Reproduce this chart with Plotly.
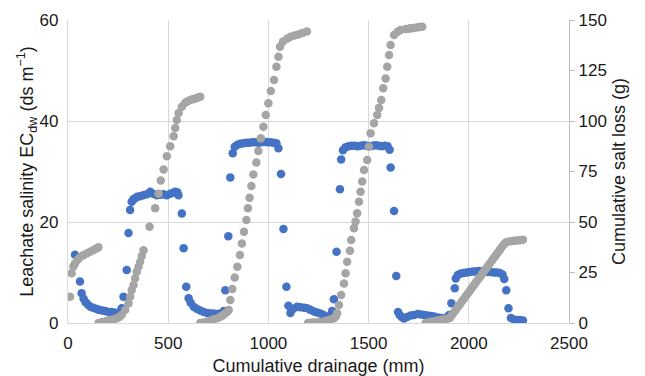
import plotly.graph_objects as go

# Leachate salinity EC_dw (left axis)
drainage_ec = [35, 60, 68, 78, 88, 100, 112, 125, 140, 155, 170, 185, 200, 215, 230, 245, 260, 268, 277, 293,
               302, 310, 318, 327, 335, 345, 360, 375, 393, 410, 425, 443, 460, 477, 493, 510, 525, 535, 545, 551,
               568, 577, 590, 602, 612, 627, 642, 660, 677, 695, 712, 727, 745, 760, 770, 778, 785, 800, 810, 822,
               832, 845, 860, 875, 890, 905, 920, 935, 950, 965, 980, 995, 1010, 1025, 1040, 1050, 1063, 1075, 1090, 1100,
               1110, 1125, 1143, 1160, 1178, 1193, 1210, 1227, 1243, 1260, 1275, 1290, 1305, 1318, 1327, 1340, 1357, 1363, 1372, 1385,
               1400, 1415, 1430, 1445, 1460, 1475, 1490, 1505, 1520, 1535, 1550, 1565, 1580, 1595, 1605, 1610, 1627, 1638, 1647, 1655,
               1665, 1677, 1692, 1710, 1727, 1745, 1762, 1777, 1795, 1812, 1827, 1845, 1862, 1877, 1892, 1902, 1913, 1930, 1935, 1945,
               1960, 1975, 1990, 2005, 2020, 2035, 2050, 2065, 2080, 2095, 2110, 2125, 2140, 2155, 2168, 2177, 2187, 2198, 2210, 2225,
               2240, 2255, 2270]
ec_dw = [13.5, 8.2, 5.9, 4.8, 4.1, 3.6, 3.2, 3.0, 2.8, 2.6, 2.5, 2.4, 2.2, 2.2, 2.1, 2.0, 2.1, 2.9, 5.2, 10.5,
         17.8, 22.4, 24.0, 24.5, 24.7, 25.0, 25.1, 25.3, 25.5, 26.0, 25.6, 25.3, 25.4, 25.5, 25.3, 25.6, 25.8, 26.0, 25.9, 25.3,
         21.7, 14.8, 7.2, 4.9, 4.0, 3.2, 2.8, 2.5, 2.2, 2.0, 1.9, 1.9, 1.8, 1.9, 2.0, 2.4, 6.5, 17.2, 28.8, 33.6,
         34.9, 35.3, 35.5, 35.6, 35.7, 35.7, 35.8, 35.8, 35.7, 35.8, 35.9, 35.8, 35.8, 35.7, 35.6, 34.6, 29.5, 18.6, 7.2, 3.4,
         2.0, 2.8, 3.2, 3.1, 3.0, 2.9, 2.6, 2.3, 2.1, 1.9, 1.6, 1.2, 1.4, 2.4, 4.7, 14.1, 26.5, 32.4, 34.2, 34.8,
         35.0, 35.1, 35.1, 35.0, 35.1, 35.2, 35.1, 35.0, 35.1, 35.2, 35.1, 35.0, 35.1, 35.0, 34.3, 30.8, 22.2, 9.3, 2.2, 1.6,
         1.2, 0.9, 1.2, 1.5, 1.6, 1.8, 1.7, 1.6, 1.5, 1.4, 1.3, 1.1, 1.0, 0.9, 1.2, 1.6, 3.9, 6.9, 8.8, 9.5,
         9.8, 9.9, 10.0, 10.1, 10.2, 10.2, 10.3, 10.2, 10.2, 10.1, 10.1, 10.0, 10.0, 9.9, 9.6, 8.7, 6.5, 2.9, 1.0, 0.7,
         0.6, 0.6, 0.5]

# Cumulative salt loss (right axis)
drainage_salt = [10, 18, 27, 35, 47, 60, 76, 93, 110, 127, 140, 152,
                 152, 170, 190, 210, 228, 243, 256, 268, 285, 302, 310, 318, 327, 335, 343, 352, 360, 368, 377, 407, 435, 452,
                 463, 477, 493, 510, 527, 535, 543, 552, 568, 585, 597, 610, 622, 635, 648, 660,
                 660, 675, 693, 710, 727, 745, 760, 773, 785, 795, 802, 810, 820, 832, 845, 858, 868, 878, 890, 898,
                 906, 915, 925, 940, 950, 962, 975, 987, 1000, 1012, 1028, 1040, 1050, 1058, 1073, 1095, 1110, 1130, 1150, 1170, 1192,
                 1198, 1212, 1227, 1243, 1260, 1277, 1293, 1310, 1327, 1337, 1343, 1352, 1363, 1377, 1385, 1393, 1407, 1413, 1427, 1435,
                 1443, 1452, 1460, 1468, 1477, 1493, 1502, 1510, 1527, 1543, 1552, 1563, 1573, 1585, 1593, 1602, 1610, 1627, 1645, 1660,
                 1685, 1700, 1710, 1725, 1740, 1755, 1768,
                 1785, 1797, 1810, 1822, 1835, 1847, 1860, 1872, 1885, 1895, 1905, 1915, 1925, 1935, 1945, 1955, 1965, 1975, 1985, 1995,
                 2005, 2015, 2025, 2035, 2045, 2055, 2065, 2075, 2085, 2095, 2105, 2115, 2125, 2135, 2145, 2155, 2165, 2175, 2185, 2195,
                 2210, 2225, 2240, 2255, 2270]
salt_loss = [13.0, 24.6, 28.0, 29.5, 31.2, 32.5, 33.6, 34.4, 35.3, 36.1, 36.8, 37.5,
             0.0, 0.5, 1.0, 1.5, 1.9, 2.3, 3.0, 4.0, 6.4, 9.7, 13.0, 16.3, 18.8, 22.0, 25.4, 27.9, 30.3, 33.2, 36.0, 47.7, 56.8, 64.0,
             70.5, 76.0, 82.5, 87.5, 92.5, 96.5, 100.5, 104.0, 107.0, 109.0, 109.8, 110.4, 110.8, 111.2, 111.6, 112.0,
             0.0, 0.3, 0.6, 1.2, 1.8, 2.4, 3.1, 3.8, 4.8, 5.6, 6.4, 11.4, 16.8, 22.5, 27.9, 33.7, 39.4, 45.2, 51.0, 56.8,
             62.0, 67.8, 73.5, 79.5, 85.2, 91.4, 97.2, 103.0, 108.8, 114.8, 120.3, 126.9, 131.8, 136.8, 139.3, 140.8, 141.7, 142.3, 142.8, 143.6, 144.3,
             0.0, 0.1, 0.2, 0.3, 0.5, 0.8, 1.2, 1.7, 2.3, 3.3, 4.8, 8.9, 13.9, 19.6, 24.6, 30.3, 35.8, 41.1, 46.9, 50.2,
             54.3, 60.0, 65.0, 70.0, 75.7, 80.7, 87.3, 93.9, 98.9, 103.0, 106.5, 110.4, 116.2, 121.1, 126.9, 132.7, 137.6, 142.6, 144.2, 145.0,
             145.5, 145.7, 145.9, 146.1, 146.3, 146.5, 146.7,
             0.0, 0.2, 0.5, 0.7, 1.0, 1.2, 1.5, 1.7, 2.0, 2.2, 2.5, 3.8, 5.2, 6.5, 7.9, 9.2, 10.6, 11.9, 13.3, 14.6,
             16.0, 17.3, 18.7, 20.0, 21.4, 22.7, 24.1, 25.4, 26.8, 28.1, 29.5, 30.8, 32.2, 33.5, 34.9, 36.2, 37.6, 38.9, 39.8, 40.2,
             40.5, 40.7, 40.9, 41.0, 41.2]

x_ticks = [0, 500, 1000, 1500, 2000, 2500]
y_ticks = [0, 20, 40, 60]
y2_ticks = [0, 25, 50, 75, 100, 125, 150]

BLUE = "#4472C4"
GRAY = "#A5A5A5"
GRID = "#D9D9D9"
TXT = "#1a1a1a"
FONT = "Liberation Sans, Arial, sans-serif"

fig = go.Figure()
fig.add_trace(go.Scatter(x=drainage_ec, y=ec_dw, mode="markers",
                         marker=dict(color=BLUE, size=8.5, line=dict(width=0)),
                         yaxis="y", showlegend=False))
fig.add_trace(go.Scatter(x=drainage_salt, y=salt_loss, mode="markers",
                         marker=dict(color=GRAY, size=8.5, line=dict(width=0)),
                         yaxis="y2", showlegend=False))

fig.update_layout(
    width=645, height=376,
    margin=dict(l=68, r=76, t=20, b=53),
    paper_bgcolor="white", plot_bgcolor="white",
    font=dict(family=FONT, color=TXT, size=17),
    xaxis=dict(range=[0, 2500], tickvals=x_ticks, showgrid=True, gridcolor=GRID, gridwidth=1.3,
               showline=True, linecolor=GRID, linewidth=1.3, zeroline=False, ticks="",
               automargin=False,
               tickfont=dict(size=17, family=FONT, color=TXT), ticklabelstandoff=4,
               title=dict(text="Cumulative drainage (mm)", font=dict(size=18, family=FONT, color=TXT), standoff=11)),
    yaxis=dict(range=[0, 60], tickvals=y_ticks, showgrid=True, gridcolor=GRID, gridwidth=1.3,
               showline=True, linecolor=GRID, linewidth=1.3, zeroline=False, ticks="",
               automargin=False,
               tickfont=dict(size=17, family=FONT, color=TXT), ticklabelstandoff=5,
               title=dict(text="Leachate salinity EC<sub>dw</sub> (ds m<sup>\u22121</sup>)",
                          font=dict(size=18, family=FONT, color=TXT), standoff=0)),
    yaxis2=dict(range=[0, 150], tickvals=y2_ticks, overlaying="y", side="right", showgrid=False,
                showline=True, linecolor="#BFBFBF", linewidth=1.3, zeroline=False,
                automargin=False,
                ticks="outside", ticklen=5, tickcolor="#BFBFBF", tickwidth=1.3,
                tickfont=dict(size=17, family=FONT, color=TXT),
                title=dict(text="Cumulative salt loss (g)", font=dict(size=18, family=FONT, color=TXT), standoff=6)),
)

fig.write_html("out.html")
